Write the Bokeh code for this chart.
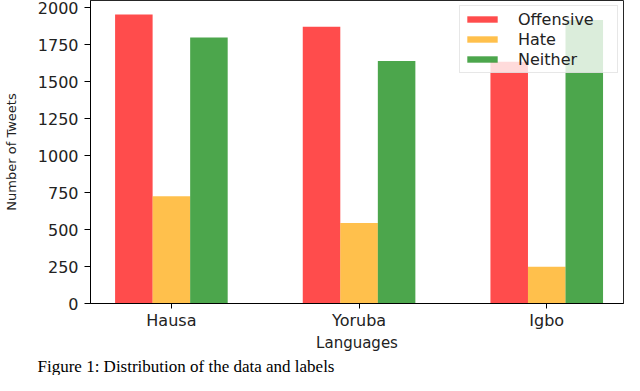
from bokeh.plotting import figure
from bokeh.models import Range1d, FixedTicker, Title, ColumnDataSource
from bokeh.transform import dodge
from bokeh.embed import file_html
from bokeh.resources import INLINE

languages = ["Hausa", "Yoruba", "Igbo"]
offensive = [1953, 1870, 1634]
hate = [725, 544, 248]
neither = [1798, 1639, 1917]
series_names = ["Offensive", "Hate", "Neither"]
series_colors = ["red", "orange", "green"]
y_ticks = [0, 250, 500, 750, 1000, 1250, 1500, 1750, 2000]
x_label = "Languages"
y_label = "Number of Tweets"
caption = "Figure 1: Distribution of the data and labels"

xs = list(range(len(languages)))
src = ColumnDataSource(dict(x=xs, Offensive=offensive, Hate=hate, Neither=neither))

p = figure(width=624, height=375, output_backend="svg", toolbar_location=None,
           x_range=Range1d(-0.431, 2.409), y_range=Range1d(0, 2048),
           min_border_left=89, min_border_right=1, min_border_top=0, min_border_bottom=71)

offsets = [-0.2, 0.0, 0.2]
for name, col, off in zip(series_names, series_colors, offsets):
    p.vbar(x=dodge("x", off), top=name, width=0.2, source=src,
           fill_color=col, fill_alpha=0.7, line_alpha=0, legend_label=name)

p.xgrid.visible = False
p.ygrid.visible = False
p.outline_line_color = "black"
p.outline_line_width = 1
p.outline_line_alpha = 0.85

p.xaxis.ticker = FixedTicker(ticks=xs)
p.xaxis.major_label_overrides = {i: l for i, l in enumerate(languages)}
p.yaxis.ticker = FixedTicker(ticks=y_ticks)
for ax in (p.xaxis, p.yaxis):
    ax.minor_tick_line_color = None
    ax.major_tick_in = 0
    ax.axis_line_color = "black"
    ax.major_tick_line_color = "black"
    ax.major_label_text_font = "DejaVu Sans"
    ax.major_label_text_font_size = "16px"
    ax.major_label_text_color = "#222222"
    ax.axis_label_text_font = "DejaVu Sans"
    ax.axis_label_text_font_style = "normal"
    ax.axis_label_text_color = "#222222"
p.xaxis.major_tick_out = 5
p.yaxis.major_tick_out = 6
p.xaxis.major_label_standoff = 2
p.yaxis.major_label_standoff = 6
p.xaxis.axis_label = x_label
p.xaxis.axis_label_text_font_size = "15px"
p.xaxis.axis_label_standoff = 1
p.yaxis.axis_label = y_label
p.yaxis.axis_label_text_font_size = "13px"
p.yaxis.axis_label_standoff = 16

lg = p.legend[0]
lg.location = "top_right"
lg.margin = 5
lg.padding = 3
lg.spacing = 0
lg.label_height = 20
lg.label_width = 96
lg.glyph_height = 8
lg.glyph_width = 38
lg.label_standoff = 17
lg.label_text_font = "DejaVu Sans"
lg.label_text_font_size = "16px"
lg.label_text_color = "#222222"
lg.border_line_color = "#d0d0d0"
lg.background_fill_alpha = 0.8

p.add_layout(Title(text=caption, align="left", offset=-53, standoff=0,
                   text_font="Liberation Serif", text_font_size="17px",
                   text_font_style="normal", text_color="black"), "below")

open("out.html", "w").write(file_html(p, INLINE))
